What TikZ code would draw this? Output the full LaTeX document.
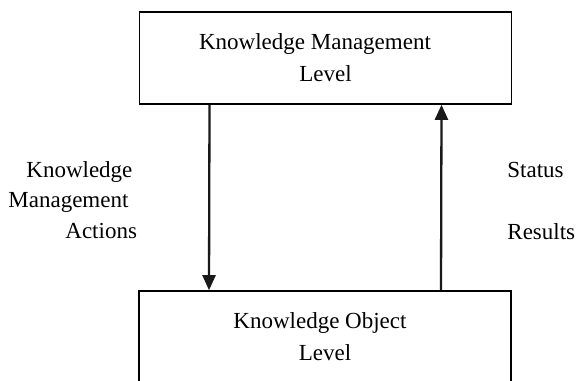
\documentclass[tikz,border=0pt]{standalone}
\usepackage{fontspec}
\setmainfont{Liberation Serif}
\usepackage{tikz}
\usetikzlibrary{positioning,arrows.meta,calc}
\tikzset{
  level/.style={draw,line width=0.8pt,minimum width=186pt,minimum height=46pt,
            align=center,font=\fontsize{11.5}{16}\selectfont,fill=white},
  flow/.style={-{Triangle[length=7.5pt,width=6.5pt]},line width=1.15pt,black!90},
  lbl/.style={anchor=base west,inner sep=0pt,font=\fontsize{11.5}{15}\selectfont},
}
\begin{document}
\begin{tikzpicture}[x=0.5pt,y=-0.5pt]
  \useasboundingbox (0,0) rectangle (576,380);
  \clip (0,0) rectangle (576,380);
  \node[level] (kml) at (325.5,58) {Knowledge Management\hspace*{10.5pt}\\Level};
  \node[level] (kol) at (325,337) {Knowledge Object\hspace*{5pt}\\Level};
  \draw[flow] ([xshift=-58pt]kml.south) -- ([xshift=-58pt]kol.north);
  \draw[flow] ([xshift=58pt]kol.north) -- ([xshift=58pt]kml.south);
  % labels beside the arrows
  \node[lbl] (act1) at (26,177) {Knowledge};
  \node[lbl] (act2) at (8,207) {Management};
  \node[lbl] (act3) at (65,238) {Actions};
  \node[lbl] (res1) at (507,177) {Status};
  \node[lbl] (res2) at (507,239) {Results};
\end{tikzpicture}
\end{document}
